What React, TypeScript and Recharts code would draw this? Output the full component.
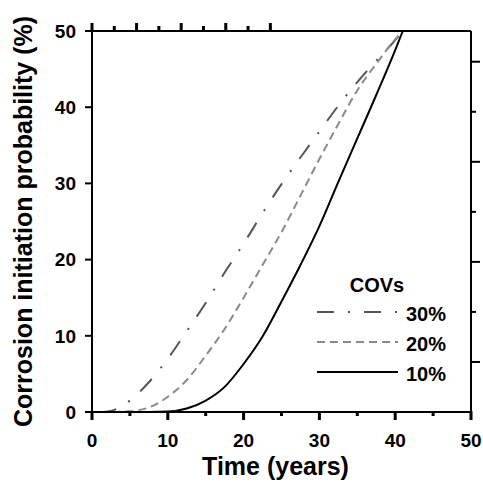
import { LineChart, Line, XAxis, YAxis, Legend } from 'recharts';

const time = [1, 2.5, 5, 7.5, 10, 12.5, 15, 17.5, 20, 22.5, 25, 27.5, 30, 32.5, 35, 37.5, 40, 41];
const cov30 = [0, 0.15, 1.5, 3.9, 7.0, 10.6, 14.3, 18.3, 22.1, 26.1, 29.9, 33.4, 36.8, 40.2, 43.3, 46.1, 48.8, 50];
const cov20 = [0, 0, 0.1, 0.6, 2.0, 4.2, 7.4, 10.9, 15.0, 19.3, 23.6, 28.4, 33.2, 37.8, 42.2, 45.7, 48.9, 50];
const cov10 = [0, 0, 0, 0, 0.05, 0.45, 1.5, 3.3, 6.3, 9.9, 14.5, 19.3, 24.4, 30.2, 35.9, 41.6, 47.5, 50];

const xTicks = [0, 5, 10, 15, 20, 25, 30, 35, 40, 45, 50];
const yTicks = [0, 10, 20, 30, 40, 50];
// top and right frame ticks carry no labels (secondary scales)
const topTicks = [0, 1, 2, 3, 4, 5, 6, 7, 8];
const rightTicks = [0, 1, 2, 3, 4, 5, 6, 7];

const legendItems = [
  { label: '30%', color: '#555555', dash: '17 14 2 14' },
  { label: '20%', color: '#8a8a8a', dash: '8 5' },
  { label: '10%', color: '#000000', dash: undefined },
];

const data = time.map((t, i) => ({ t, c30: cov30[i], c20: cov20[i], c10: cov10[i] }));

const FONT = 'Arial, "Liberation Sans", sans-serif';

const BottomTick = (props: any) => {
  const x = Number(props.x);
  const y = Number(props.y);
  const v = Number(props.payload.value);
  const major = v % 10 === 0;
  return (
    <g>
      <rect x={x - 1.5} y={y - 1} width={3} height={major ? 9 : 5} fill="#000" stroke="none" />
      {major && (
        <text x={x} y={y + 35} textAnchor="middle" fontSize={19} fontWeight="bold" fontFamily={FONT} fill="#000" stroke="none">
          {v}
        </text>
      )}
    </g>
  );
};

const TopTick = (props: any) => {
  const x = Number(props.x);
  const y = Number(props.y);
  const major = Number(props.payload.value) % 2 === 0;
  const len = major ? 9 : 6;
  return (
    <g>
      <rect x={x - 1.5} y={y - len + 1} width={3} height={len} fill="#000" stroke="none" />
    </g>
  );
};

const RightTick = (props: any) => {
  const x = Number(props.x);
  const y = Number(props.y);
  const v = Number(props.payload.value);
  if (v === 0) return <g />;
  const len = v % 2 === 1 ? 9 : 5;
  return (
    <g>
      <rect x={x} y={y - 1} width={len} height={2} fill="#000" stroke="none" />
    </g>
  );
};

const LegendBox = () => (
  <svg width={140} height={120} style={{ overflow: 'visible' }}>
    <text x={60} y={20} textAnchor="middle" fontSize={20} fontWeight="bold" fontFamily={FONT} fill="#000">
      COVs
    </text>
    {legendItems.map((item, i) => (
      <g key={item.label}>
        <line
          x1={0}
          y1={40 + i * 30}
          x2={81}
          y2={40 + i * 30}
          stroke={item.color}
          strokeWidth={2}
          strokeDasharray={item.dash}
        />
        <text x={89} y={49 + i * 30} fontSize={20} fontWeight="bold" fontFamily={FONT} fill="#000">
          {item.label}
        </text>
      </g>
    ))}
  </svg>
);

export default function App() {
  return (
    <div style={{ position: 'absolute', left: 0, top: 0, background: '#fff' }}>
      <LineChart width={483} height={486} data={data} margin={{ top: 11, right: 0, bottom: 0, left: 0 }}>
        <XAxis
          dataKey="t"
          type="number"
          domain={[0, 50]}
          ticks={xTicks}
          interval={0}
          height={74}
          tickSize={0}
          tickMargin={0}
          tickLine={false}
          axisLine={{ stroke: '#000', strokeWidth: 2 }}
          tick={<BottomTick />}
          label={{
            value: 'Time (years)',
            position: 'insideBottom',
            offset: 11,
            dx: -6,
            style: { fontSize: 25, fontWeight: 'bold', fontFamily: FONT, fill: '#000' },
          }}
        />
        <XAxis
          xAxisId="top"
          orientation="top"
          type="number"
          domain={[0, 8]}
          allowDataOverflow
          ticks={topTicks}
          interval={0}
          minTickGap={0}
          height={20}
          tickSize={0}
          tickMargin={0}
          tickLine={false}
          axisLine={{ stroke: '#000', strokeWidth: 2 }}
          tick={<TopTick />}
        />
        <YAxis
          type="number"
          domain={[0, 50]}
          ticks={yTicks}
          interval={0}
          width={92}
          tickSize={7}
          tickMargin={9}
          tickLine={{ stroke: '#000', strokeWidth: 2 }}
          axisLine={{ stroke: '#000', strokeWidth: 2 }}
          tick={{ fontSize: 19, fontWeight: 'bold', fontFamily: FONT, fill: '#000' }}
          label={{
            value: 'Corrosion initiation probability (%)',
            angle: -90,
            position: 'insideLeft',
            offset: 23,
            style: { fontSize: 25, fontWeight: 'bold', fontFamily: FONT, fill: '#000', textAnchor: 'middle' },
          }}
        />
        <YAxis
          yAxisId="right"
          orientation="right"
          type="number"
          domain={[0, 7.614]}
          allowDataOverflow
          ticks={rightTicks}
          interval={0}
          minTickGap={0}
          width={12}
          tickSize={0}
          tickMargin={0}
          tickLine={false}
          axisLine={{ stroke: '#000', strokeWidth: 2 }}
          tick={<RightTick />}
        />
        <Legend
          layout="horizontal"
          align="center"
          verticalAlign="middle"
          wrapperStyle={{ position: 'absolute', left: 317, top: 272, width: 140, height: 120 }}
          content={() => <LegendBox />}
        />
        <Line
          dataKey="c30"
          type="monotone"
          stroke="#555555"
          strokeWidth={2}
          strokeDasharray="17 14 2 14"
          dot={false}
          isAnimationActive={false}
        />
        <Line
          dataKey="c20"
          type="monotone"
          stroke="#8a8a8a"
          strokeWidth={2}
          strokeDasharray="8 5"
          dot={false}
          isAnimationActive={false}
        />
        <Line
          dataKey="c10"
          type="monotone"
          stroke="#000000"
          strokeWidth={2}
          dot={false}
          isAnimationActive={false}
        />
      </LineChart>
    </div>
  );
}
